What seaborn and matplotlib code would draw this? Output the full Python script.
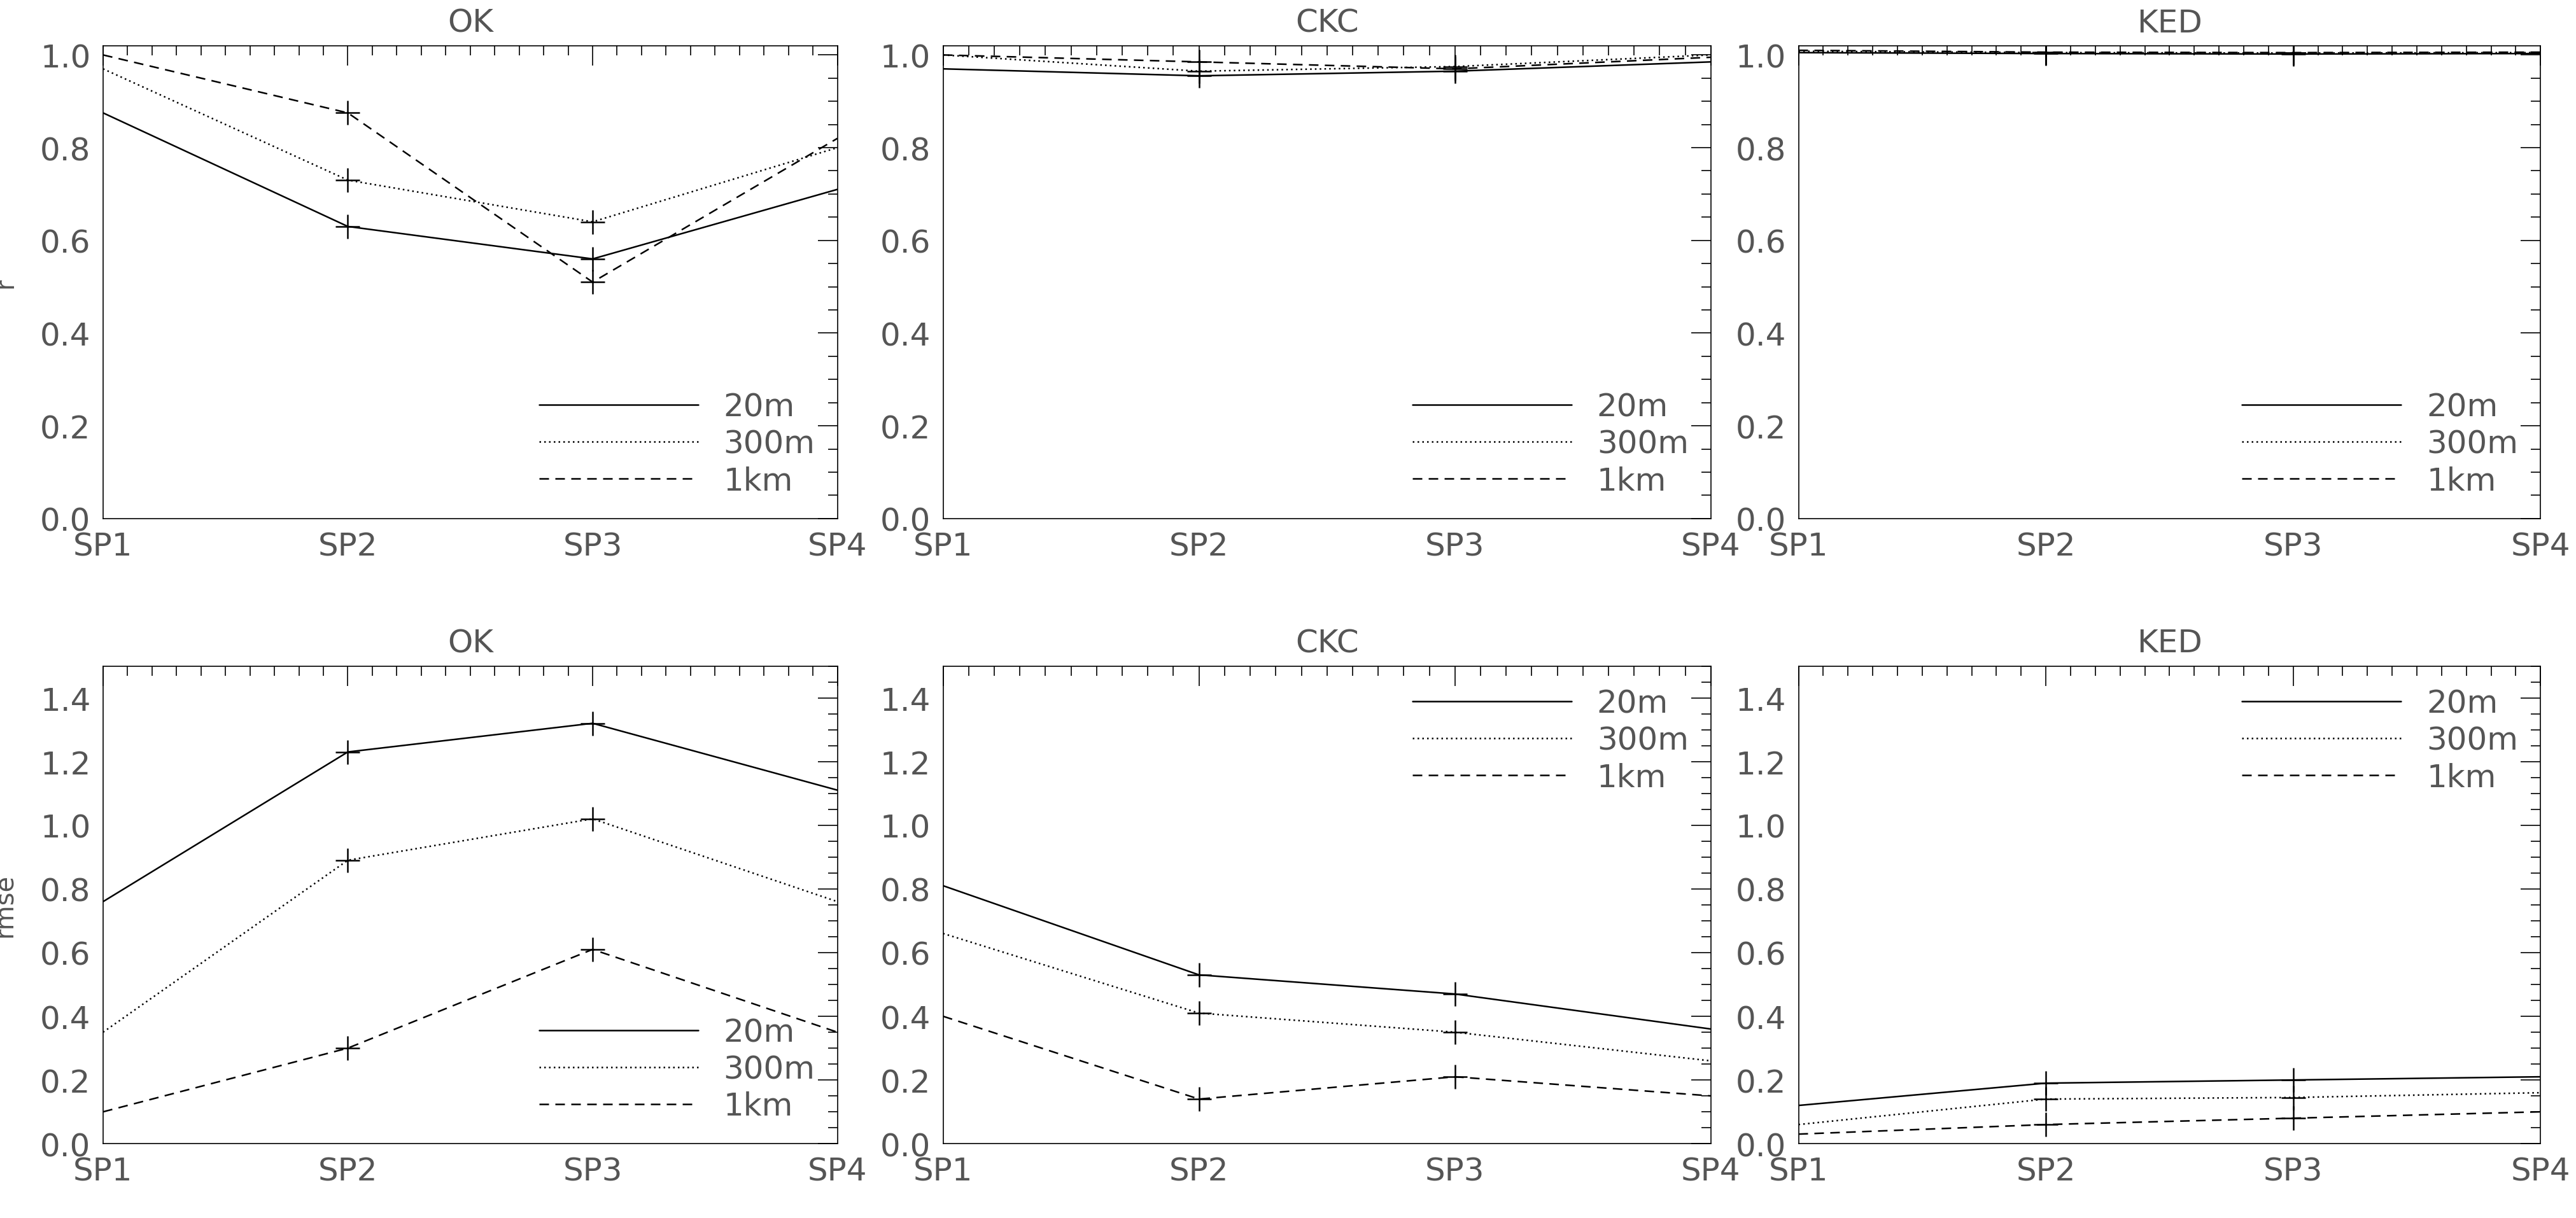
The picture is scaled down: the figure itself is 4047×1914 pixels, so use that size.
import numpy as np
import pandas as pd
import seaborn as sns
import matplotlib.pyplot as plt
from matplotlib.ticker import MultipleLocator

sns.set_style("white")
plt.rcParams['font.family'] = ['DejaVu Sans']

sites = ['SP1', 'SP2', 'SP3', 'SP4']
res = ['20m', '300m', '1km']
methods = ['OK', 'CKC', 'KED']

# r values
r_ok = [[0.875, 0.63, 0.56, 0.71], [0.97, 0.73, 0.64, 0.80], [1.0, 0.875, 0.51, 0.82]]
r_ckc = [[0.97, 0.955, 0.965, 0.985], [1.0, 0.965, 0.975, 1.0], [1.0, 0.985, 0.97, 0.995]]
r_ked = [[1.005, 1.003, 1.002, 1.003], [1.008, 1.005, 1.004, 1.005], [1.01, 1.006, 1.005, 1.006]]
# rmse values
e_ok = [[0.76, 1.23, 1.32, 1.11], [0.35, 0.89, 1.02, 0.76], [0.10, 0.30, 0.61, 0.35]]
e_ckc = [[0.81, 0.53, 0.47, 0.36], [0.66, 0.41, 0.35, 0.26], [0.40, 0.14, 0.21, 0.15]]
e_ked = [[0.12, 0.19, 0.20, 0.21], [0.06, 0.14, 0.145, 0.16], [0.03, 0.06, 0.08, 0.10]]

rows = []
for metric, blocks in [('r', [r_ok, r_ckc, r_ked]), ('rmse', [e_ok, e_ckc, e_ked])]:
    for m, blk in zip(methods, blocks):
        for rs, vals in zip(res, blk):
            for i, v in enumerate(vals):
                rows.append(dict(metric=metric, method=m, res=rs, x=i, value=v))
df = pd.DataFrame(rows)

styles = {'20m': '-', '300m': (0, (1, 2)), '1km': (0, (6, 4))}
grey = '#555555'
fs = 36

fig = plt.figure(figsize=(40.48, 19.15), dpi=100)
lefts = [0.040, 0.366, 0.698]
w = [0.285, 0.298, 0.288]
for r_i, metric in enumerate(['r', 'rmse']):
    for c_i, m in enumerate(methods):
        if r_i == 0:
            box = [lefts[c_i], 0.574, w[c_i], 0.388]
        else:
            box = [lefts[c_i], 0.061, w[c_i], 0.392]
        ax = fig.add_axes(box)
        sub = df[(df.metric == metric) & (df.method == m)]
        for rs in res:
            d = sub[sub.res == rs]
            sns.lineplot(data=d, x='x', y='value', ax=ax, color='black', lw=1.8,
                         label=rs, legend=False)
            ax.lines[-1].set_linestyle(styles[rs])
            dd = d[d.x.isin([1, 2])]
            ax.plot(dd.x, dd.value, ls='none', marker='+', ms=28, mew=1.8, color='black')
        ax.set_xlim(0, 3)
        if metric == 'r':
            ax.set_ylim(0, 1.02)
            loc = 'lower right'
        else:
            ax.set_ylim(0, 1.5)
            loc = 'lower right' if m == 'OK' else 'upper right'
        ax.yaxis.set_major_locator(MultipleLocator(0.2))
        ax.yaxis.set_minor_locator(MultipleLocator(0.05))
        ax.set_xticks(range(4))
        ax.set_xticklabels(sites)
        ax.xaxis.set_minor_locator(MultipleLocator(0.1))
        ax.tick_params(which='both', direction='in', top=True, right=True, colors='black',
                       labelcolor=grey, labelsize=fs, width=1.2)
        ax.tick_params(which='major', length=22, pad=14)
        ax.tick_params(which='minor', length=11)
        for s in ax.spines.values():
            s.set_linewidth(1.2)
            s.set_color('black')
        ax.set_xlabel('')
        ax.set_ylabel('')
        if c_i == 0:
            ax.set_ylabel(metric, fontsize=fs * 0.8, color=grey, labelpad=25)
        ax.set_title(m, fontsize=fs, color=grey, pad=16)
        h = [l for l in ax.lines if l.get_label() in res]
        leg = ax.legend(h, res, loc=loc, frameon=False, fontsize=fs, handlelength=5,
                        labelspacing=0.2, borderaxespad=0.3)
        for t in leg.get_texts():
            t.set_color(grey)

fig.savefig('out.png', dpi=100)
